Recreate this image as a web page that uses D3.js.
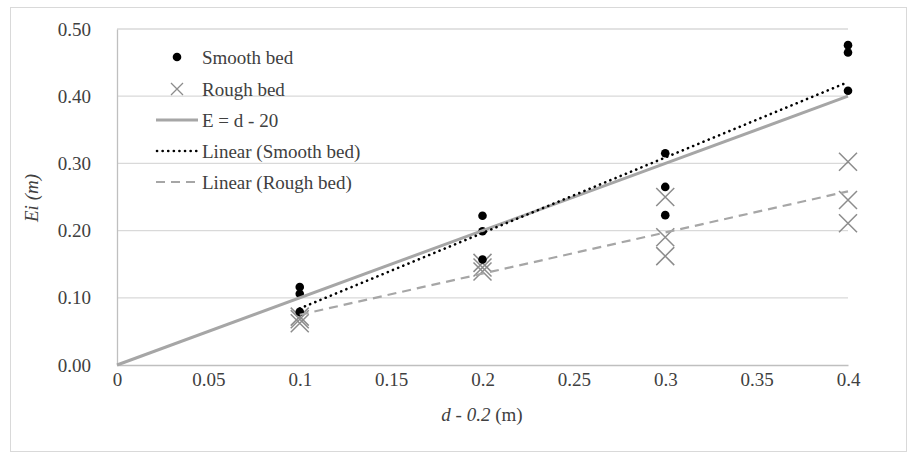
<!DOCTYPE html>
<html><head><meta charset="utf-8">
<script src="https://cdn.jsdelivr.net/npm/d3@7"></script>
<style>body{margin:0;background:#fff}</style>
</head><body><svg id="c" width="912" height="456"></svg>
<script>
const xGroups = [0.1, 0.2, 0.3, 0.4];
const smoothBed = [[0.116,0.106,0.079],[0.222,0.199,0.157],[0.315,0.265,0.223],[0.476,0.465,0.408]];
const roughBed = [[0.072,0.068,0.062],[0.152,0.145,0.139],[0.250,0.190,0.162],[0.3025,0.2455,0.211]];
const equalityLine = [[0,0],[0.4,0.4]];
const xTicks = [0,0.05,0.1,0.15,0.2,0.25,0.3,0.35,0.4];
const xTickLabels = ["0","0.05","0.1","0.15","0.2","0.25","0.3","0.35","0.4"];
const yTicks = [0,0.1,0.2,0.3,0.4,0.5];
const yTickLabels = ["0.00","0.10","0.20","0.30","0.40","0.50"];
const legendLabels = ["Smooth bed","Rough bed","E = d - 20","Linear (Smooth bed)","Linear (Rough bed)"];

const FONT = "'Times New Roman', Tinos, 'Liberation Serif', 'DejaVu Serif', 'Noto Serif', serif";
const svg = d3.select("#c");
const x = d3.scaleLinear().domain([0,0.4]).range([117,848]);
const y = d3.scaleLinear().domain([0,0.5]).range([365,29]);

svg.append("rect").attr("x",10.5).attr("y",7.5).attr("width",896).attr("height",444)
  .attr("fill","none").attr("stroke","#d9d9d9");

svg.append("g").selectAll("line").data(yTicks.slice(1)).join("line")
  .attr("x1",x(0)).attr("x2",x(0.4)).attr("y1",d=>y(d)).attr("y2",d=>y(d))
  .attr("stroke","#d9d9d9").attr("stroke-width",1.3);

const xAxis = d3.axisBottom(x).tickValues(xTicks).tickFormat((d,i)=>xTickLabels[i]).tickSize(0).tickPadding(8);
const gx = svg.append("g").attr("transform",`translate(0,${y(0)})`).call(xAxis);
gx.select(".domain").attr("stroke","#bfbfbf").attr("stroke-width",1.3);
gx.selectAll("text").attr("fill","#404040").style("font-family",FONT).style("font-size","19px");
const yAxis = d3.axisLeft(y).tickValues(yTicks).tickFormat((d,i)=>yTickLabels[i]).tickSize(0).tickPadding(26);
const gy = svg.append("g").attr("transform",`translate(${x(0)},0)`).call(yAxis);
gy.select(".domain").attr("stroke","#bfbfbf").attr("stroke-width",1.3);
gy.selectAll("text").attr("fill","#404040").style("font-family",FONT).style("font-size","19px");

function flat(arr){ const out=[]; arr.forEach((g,i)=>g.forEach(v=>out.push([xGroups[i],v]))); return out; }
function fit(pts){
  const mx=d3.mean(pts,p=>p[0]), my=d3.mean(pts,p=>p[1]);
  const b=d3.sum(pts,p=>(p[0]-mx)*(p[1]-my))/d3.sum(pts,p=>(p[0]-mx)**2);
  const a=my-b*mx;
  const x0=d3.min(pts,p=>p[0]), x1=d3.max(pts,p=>p[0]);
  return [[x0,a+b*x0],[x1,a+b*x1]];
}
const sPts=flat(smoothBed), rPts=flat(roughBed);
const line=d3.line().x(d=>x(d[0])).y(d=>y(d[1]));

const cs=9;
const cross = svg.append("g");
rPts.forEach(p=>{
  const cx=x(p[0]), cy=y(p[1]);
  cross.append("path").attr("d",`M${cx-cs},${cy-cs}L${cx+cs},${cy+cs}M${cx-cs},${cy+cs}L${cx+cs},${cy-cs}`)
    .attr("stroke","#8c8c8c").attr("stroke-width",1.5).attr("fill","none");
});
svg.append("g").selectAll("circle").data(sPts).join("circle")
  .attr("cx",d=>x(d[0])).attr("cy",d=>y(d[1])).attr("r",4.3).attr("fill","#000");

svg.append("path").attr("d",line(equalityLine)).attr("stroke","#a6a6a6").attr("stroke-width",3).attr("fill","none");
svg.append("path").attr("d",line(fit(sPts))).attr("stroke","#000").attr("stroke-width",2.6)
  .attr("stroke-dasharray","0.1 5.5").attr("stroke-linecap","round").attr("fill","none");
svg.append("path").attr("d",line(fit(rPts))).attr("stroke","#a6a6a6").attr("stroke-width",2.2)
  .attr("stroke-dasharray","9 6").attr("fill","none");

const lg = svg.append("g");
const rowY = [57,89,120,151,182];
lg.selectAll("text").data(legendLabels).join("text")
  .attr("x",202).attr("y",(d,i)=>rowY[i]).attr("dy","0.35em").attr("fill","#404040")
  .style("font-family",FONT).style("font-size","19px").text(d=>d);
lg.append("circle").attr("cx",177).attr("cy",rowY[0]).attr("r",4.3).attr("fill","#000");
const lc=6;
lg.append("path").attr("d",`M${177-lc},${rowY[1]-lc}L${177+lc},${rowY[1]+lc}M${177-lc},${rowY[1]+lc}L${177+lc},${rowY[1]-lc}`)
  .attr("stroke","#8c8c8c").attr("stroke-width",1.3);
lg.append("line").attr("x1",156).attr("x2",198).attr("y1",rowY[2]).attr("y2",rowY[2]).attr("stroke","#a6a6a6").attr("stroke-width",3);
lg.append("line").attr("x1",157).attr("x2",198).attr("y1",rowY[3]).attr("y2",rowY[3]).attr("stroke","#000").attr("stroke-width",2.6)
  .attr("stroke-dasharray","0.1 5.5").attr("stroke-linecap","round");
lg.append("line").attr("x1",156).attr("x2",198).attr("y1",rowY[4]).attr("y2",rowY[4]).attr("stroke","#a6a6a6").attr("stroke-width",2.2)
  .attr("stroke-dasharray","9 6");

const xt = svg.append("text").attr("x",482).attr("y",421).attr("text-anchor","middle")
  .attr("fill","#404040").style("font-family",FONT).style("font-size","19px");
xt.append("tspan").style("font-style","italic").text("d  - 0.2");
xt.append("tspan").text(" (m)");
svg.append("text").attr("transform","translate(38,198) rotate(-90)").attr("text-anchor","middle")
  .style("font-family",FONT).style("font-size","19px").style("font-style","italic").attr("fill","#404040").text("Ei (m)");
</script></body></html>
